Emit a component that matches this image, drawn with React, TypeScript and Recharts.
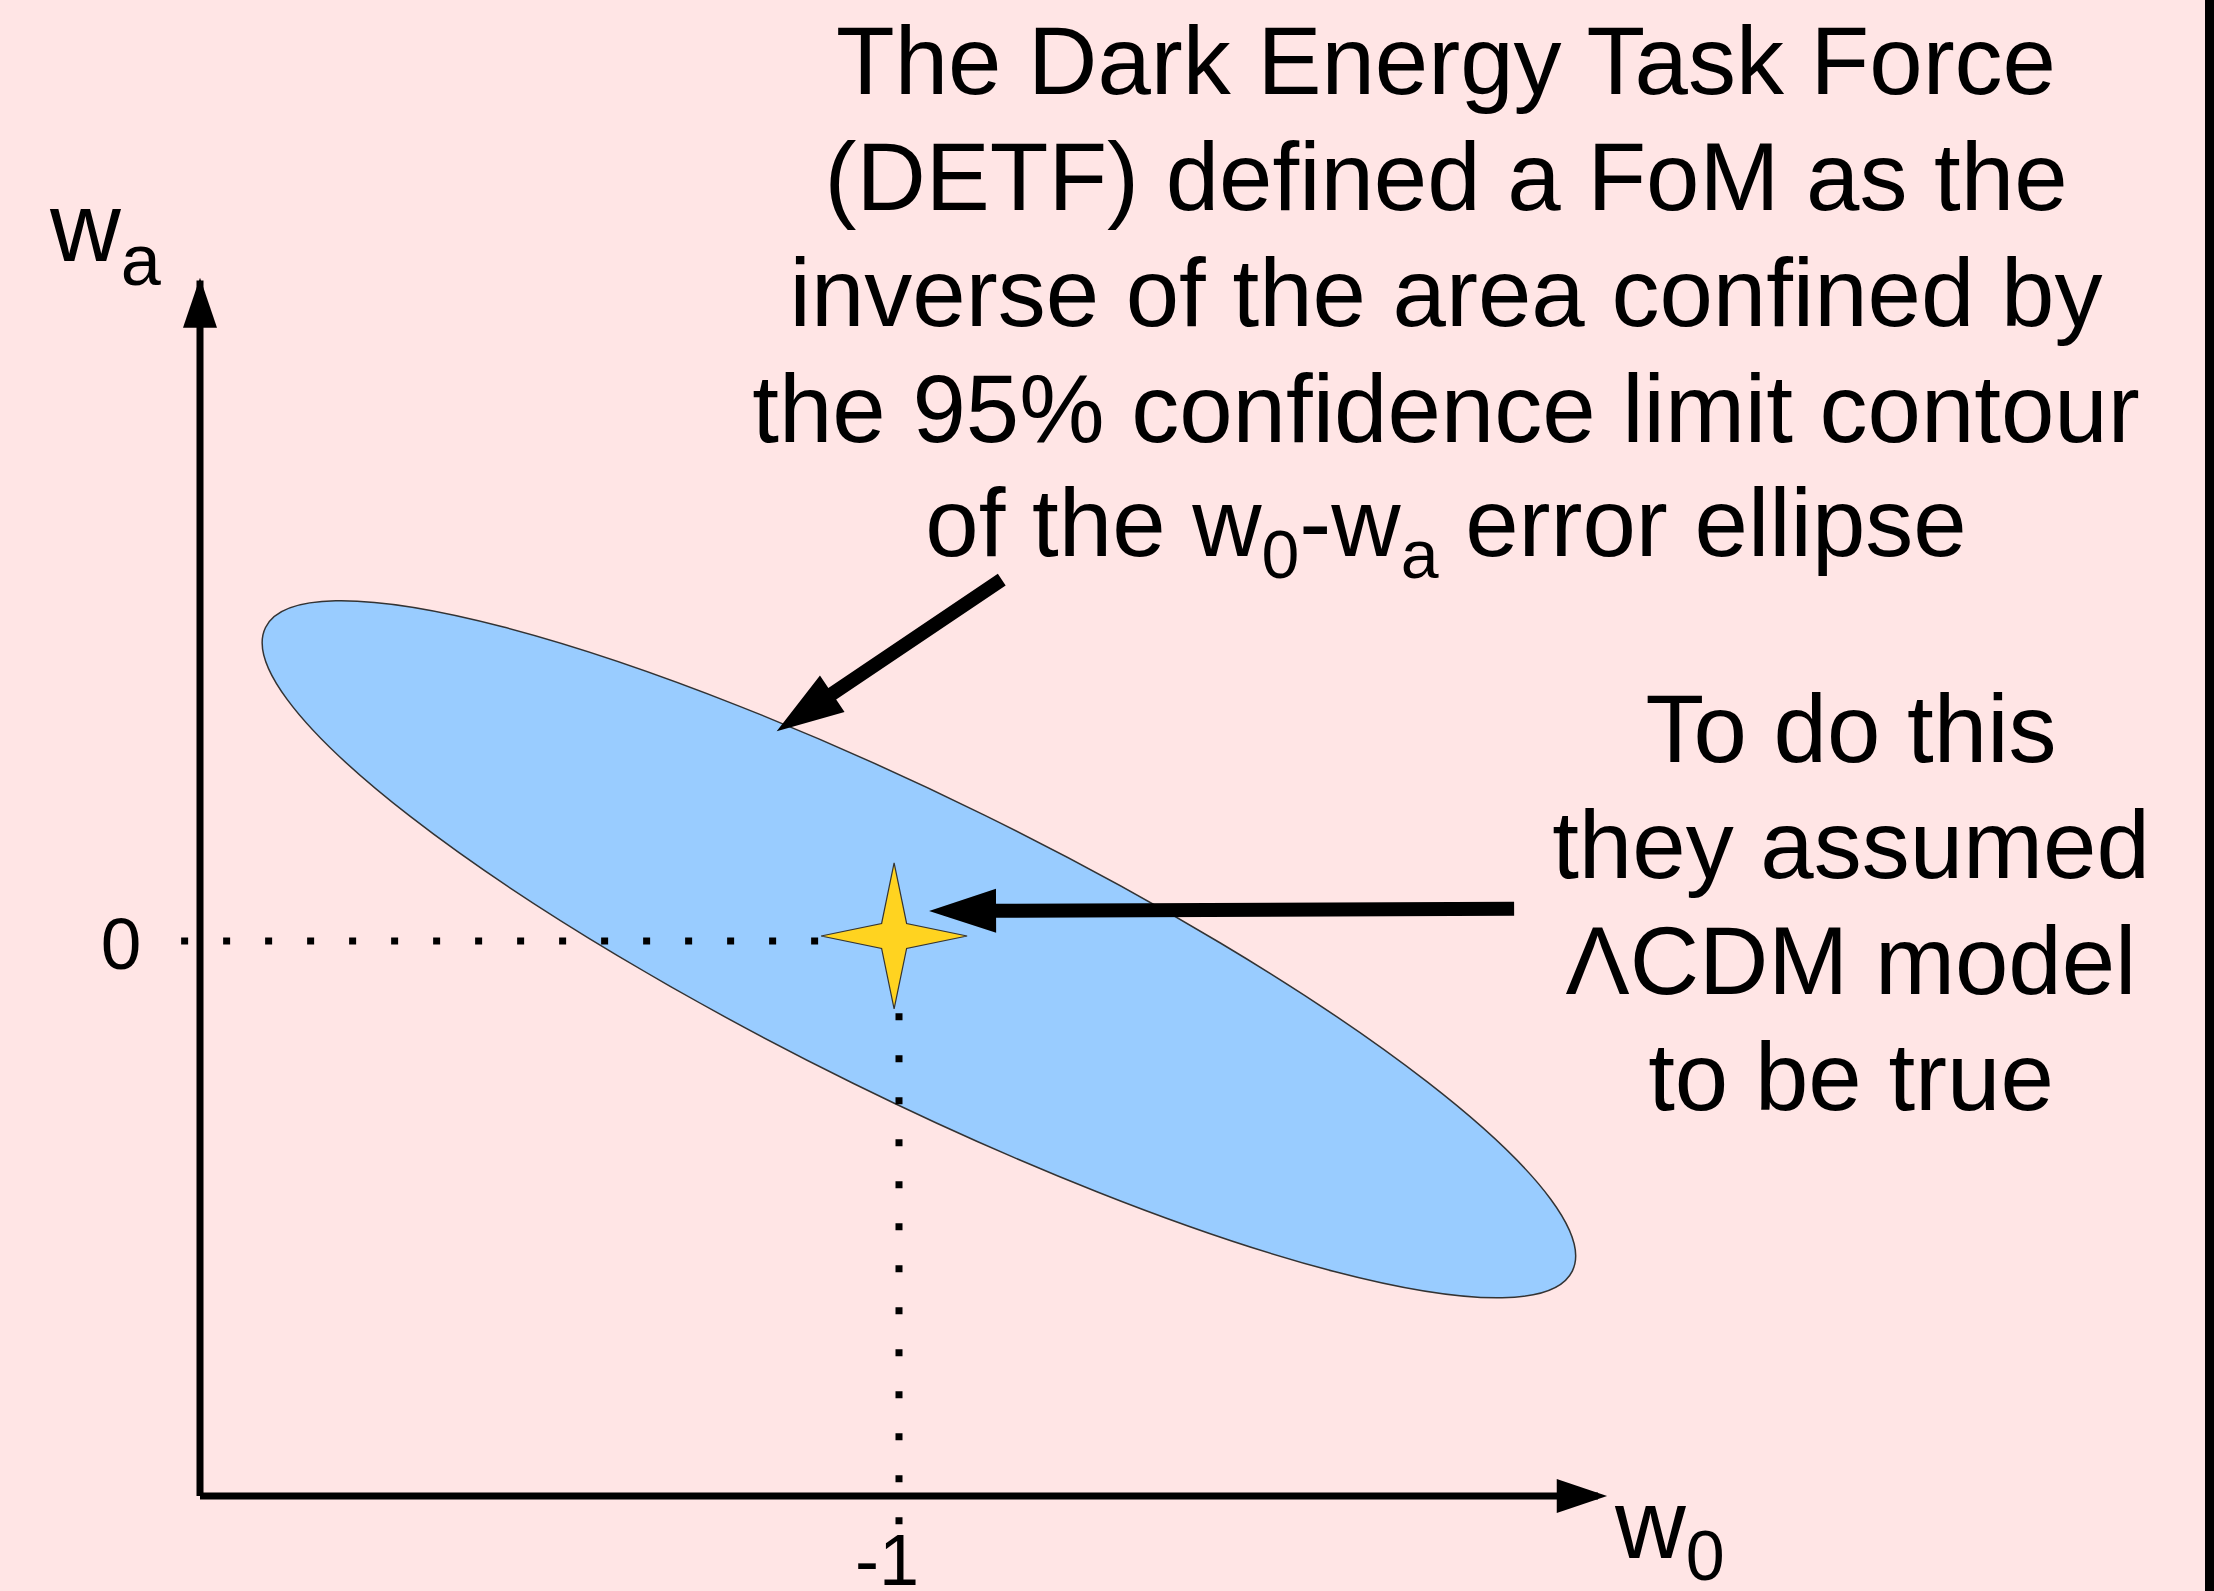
import { ScatterChart, Scatter, XAxis, YAxis, ReferenceLine, ReferenceArea } from 'recharts'

// axes of the w0-wa plane
const w0Domain = [-2, 0]
const waDomain = [-1, 1.19]
const w0Ticks = [-1]
const waTicks = [0]

// fiducial LambdaCDM model (the star)
const lcdmPoint = [{ w0: -1.007, wa: 0.009 }]

// 95% contour: bounding box in (w0, wa) and the w0-wa correlation
const ellipseW0 = [-1.911, -0.032]
const ellipseWa = [-0.643, 0.613]
const ellipseRho = -0.88

// dotted guides from the axes to the fiducial model
const guideW0 = [-2.027, -1.11]
const guideWa = [-0.13, -1.056]

// axis arrow heads (base, tip)
const w0Arrow = [-0.059, 0.013]
const waArrow = [1.105, 1.195]

// annotation pointers (tail -> tip)
const pointers = [
  { fromW0: -0.853, fromWa: 0.651, toW0: -1.175, toWa: 0.378 },
  { fromW0: -0.12, fromWa: 0.058, toW0: -0.957, toWa: 0.054 },
]

const titleLines = [
  'The Dark Energy Task Force',
  '(DETF) defined a FoM as the',
  'inverse of the area confined by',
  'the 95% confidence limit contour',
]
const noteLines = ['To do this', 'they assumed', '\u039BCDM model', 'to be true']

const FONT = '"Liberation Sans", Arial, sans-serif'
const BG = '#FFE5E5'

const EllipseShape = (p: any) => {
  const { x, y, width, height } = p
  const cx = x + width / 2
  const cy = y + height / 2
  const sxx = (width / 2) ** 2
  const syy = (height / 2) ** 2
  // screen y runs downward, so the correlation flips sign
  const sxy = -ellipseRho * (width / 2) * (height / 2)
  const d = Math.sqrt((sxx - syy) ** 2 + 4 * sxy * sxy)
  const a = Math.sqrt((sxx + syy + d) / 2)
  const b = Math.sqrt((sxx + syy - d) / 2)
  const ang = (0.5 * Math.atan2(2 * sxy, sxx - syy) * 180) / Math.PI
  return (
    <ellipse cx={cx} cy={cy} rx={a} ry={b} transform={`rotate(${ang} ${cx} ${cy})`}
      fill="#99CCFF" stroke="#333" strokeWidth={1.5} />
  )
}

const StarShape = (p: any) => {
  const { cx, cy } = p
  const r = 73, q = 12.5
  const pts = [
    [0, -r], [q, -q], [r, 0], [q, q], [0, r], [-q, q], [-r, 0], [-q, -q],
  ].map(([dx, dy]) => `${cx + dx},${cy + dy}`).join(' ')
  return <polygon points={pts} fill="#FFD320" stroke="#333" strokeWidth={1.2} />
}

const PointerShape = (p: any) => {
  const { x1, y1, x2, y2 } = p
  const len = Math.hypot(x2 - x1, y2 - y1)
  const ux = (x2 - x1) / len, uy = (y2 - y1) / len
  const nx = -uy, ny = ux
  const head = 67, half = 22, shaft = 7
  const bx = x2 - ux * head, by = y2 - uy * head
  const pts = [
    [x1 + nx * shaft, y1 + ny * shaft],
    [bx + nx * shaft, by + ny * shaft],
    [bx + nx * half, by + ny * half],
    [x2, y2],
    [bx - nx * half, by - ny * half],
    [bx - nx * shaft, by - ny * shaft],
    [x1 - nx * shaft, y1 - ny * shaft],
  ].map(([a, b]) => `${a},${b}`).join(' ')
  return <polygon points={pts} fill="#000" />
}

const HeadShape = (p: any) => {
  const { x1, y1, x2, y2 } = p
  const len = Math.hypot(x2 - x1, y2 - y1)
  const nx = -(y2 - y1) / len, ny = (x2 - x1) / len
  const half = 17
  const pts = `${x1 + nx * half},${y1 + ny * half} ${x2},${y2} ${x1 - nx * half},${y1 - ny * half}`
  return <polygon points={pts} fill="#000" />
}

const W0Tick = (p: any) => (
  <text x={p.x - 12} y={p.y + 89} textAnchor="middle" fontSize={72} fontFamily={FONT} fill="#000">
    {p.payload.value}
  </text>
)

const WaTick = (p: any) => (
  <text x={p.x - 79} y={p.y + 28} textAnchor="middle" fontSize={73} fontFamily={FONT} fill="#000">
    {p.payload.value}
  </text>
)

const dotted = { stroke: '#000', strokeWidth: 7, strokeDasharray: '7 35' }

export default function App() {
  return (
    <div style={{ position: 'absolute', left: 0, top: 0, width: 2214, height: 1591, background: BG, overflow: 'hidden' }}>
      <ScatterChart width={2214} height={1591} margin={{ top: 280.5, right: 616, bottom: 0, left: 0 }}>
        <XAxis dataKey="w0" type="number" domain={w0Domain} ticks={w0Ticks} allowDataOverflow
          height={95} tickSize={0} tickMargin={0} tickLine={false}
          axisLine={{ stroke: '#000', strokeWidth: 7 }} tick={W0Tick} />
        <YAxis dataKey="wa" type="number" domain={waDomain} ticks={waTicks} allowDataOverflow
          width={200} tickSize={0} tickMargin={0} tickLine={false}
          axisLine={{ stroke: '#000', strokeWidth: 7 }} tick={WaTick} />
        <ReferenceArea x1={ellipseW0[0]} x2={ellipseW0[1]} y1={ellipseWa[0]} y2={ellipseWa[1]}
          ifOverflow="visible" shape={EllipseShape} />
        <ReferenceLine segment={[{ x: guideW0[0], y: 0 }, { x: guideW0[1], y: 0 }]} ifOverflow="visible" {...dotted} />
        <ReferenceLine segment={[{ x: -1, y: guideWa[0] }, { x: -1, y: guideWa[1] }]} ifOverflow="visible" {...dotted} />
        <ReferenceLine segment={[{ x: w0Arrow[0], y: waDomain[0] }, { x: w0Arrow[1], y: waDomain[0] }]}
          ifOverflow="visible" shape={HeadShape} />
        <ReferenceLine segment={[{ x: w0Domain[0], y: waArrow[0] }, { x: w0Domain[0], y: waArrow[1] }]}
          ifOverflow="visible" shape={HeadShape} />
        {pointers.map((a, i) => (
          <ReferenceLine key={i} segment={[{ x: a.fromW0, y: a.fromWa }, { x: a.toW0, y: a.toWa }]}
            ifOverflow="visible" shape={PointerShape} />
        ))}
        <Scatter data={lcdmPoint} shape={StarShape} isAnimationActive={false} />
      </ScatterChart>

      <svg width={2214} height={1591} style={{ position: 'absolute', left: 0, top: 0, pointerEvents: 'none' }}
        fontFamily={FONT} fill="#000">
        {titleLines.map((t, i) => (
          <text key={i} x={1446} y={94 + i * 116} textAnchor="middle" fontSize={96}>{t}</text>
        ))}
        <text x={1446} y={556} textAnchor="middle" fontSize={96}>
          of the w<tspan fontSize={68} dy={22}>0</tspan>
          <tspan dy={-22}>-w</tspan>
          <tspan fontSize={68} dy={22}>a</tspan>
          <tspan dy={-22}> error ellipse</tspan>
        </text>
        {noteLines.map((t, i) => (
          <text key={i} x={1851} y={762 + i * 116} textAnchor="middle" fontSize={96}>{t}</text>
        ))}
        <text x={50} y={261} fontSize={98}>
          w<tspan fontSize={72} dy={24}>a</tspan>
        </text>
        <text x={1615} y={1558} fontSize={98}>
          w<tspan fontSize={70} dy={22}>0</tspan>
        </text>
      </svg>
      <div style={{ position: 'absolute', left: 2205, top: 0, width: 9, height: 1591, background: '#000' }} />
    </div>
  )
}
